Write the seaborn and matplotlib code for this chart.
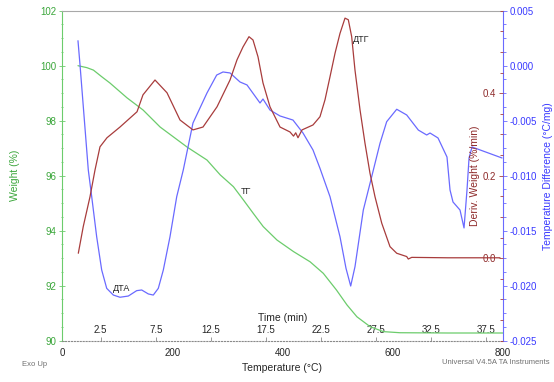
import seaborn as sns
import matplotlib.pyplot as plt
from matplotlib.ticker import MultipleLocator, AutoMinorLocator, FixedLocator, FormatStrFormatter

# ТГ: потеря массы, %
tg_temp = [29, 45, 57, 72, 87, 118, 147, 178, 227, 263, 287, 311, 329, 347, 365, 390,
           420, 450, 474, 498, 517, 535, 559, 583, 613, 700, 800]
tg_weight = [100.0, 99.93, 99.84, 99.60, 99.37, 98.83, 98.39, 97.77, 97.04, 96.57,
             96.03, 95.60, 95.12, 94.63, 94.15, 93.66, 93.24, 92.87, 92.45, 91.84,
             91.30, 90.87, 90.51, 90.33, 90.29, 90.28, 90.28]

# ДТА: разность температур, °C/mg
dta_temp = [29, 32.7, 47.7, 53.9, 62.9, 72.0, 81.1, 93.1, 105.2, 120.3, 135.5, 144.6,
            156.6, 165.6, 174.7, 183.8, 195.9, 208.1, 220.0, 237.6, 263.0, 280.6,
            292.1, 304.8, 322.9, 335.6, 359.2, 364.6, 377.3, 395.5, 419.0, 437.2,
            455.3, 468.0, 486.2, 504.3, 515.2, 523.7, 531.5, 546.6, 561.8, 576.9,
            589.0, 607.2, 625.3, 646.4, 661.6, 667.6, 682.1, 698.4, 703.9, 709.3,
            722.0, 729.3, 734.7, 738.4, 743.8, 798.2]
dta_diff = [0.00227, 0.00006, -0.00948, -0.01191, -0.01555, -0.01857, -0.02024,
            -0.02085, -0.02105, -0.02094, -0.02045, -0.02039, -0.02075, -0.02085,
            -0.02024, -0.01857, -0.01555, -0.01191, -0.00948, -0.00521, -0.00248,
            -0.00085, -0.00057, -0.00066, -0.00148, -0.00175, -0.00339, -0.00303,
            -0.00403, -0.00457, -0.00494, -0.00612, -0.00766, -0.00933, -0.01191,
            -0.01555, -0.01842, -0.02003, -0.01827, -0.01312, -0.01009, -0.00705,
            -0.00509, -0.00396, -0.00448, -0.00585, -0.00630, -0.00612, -0.00657,
            -0.00830, -0.01130, -0.01239, -0.01312, -0.01475, -0.01130, -0.00839,
            -0.00739, -0.00839]

# ДТГ: производная массы, %/min
dtg_temp = [29.6, 38.6, 50.8, 59.9, 68.9, 81.6, 105.2, 136.1, 146.9, 168.7, 190.5,
            214.1, 237.6, 255.8, 281.2, 304.8, 317.5, 328.3, 339.2, 346.5, 355.6,
            364.6, 377.3, 395.5, 413.6, 420.0, 424.0, 428.1, 435.4, 455.3, 468.0,
            477.1, 486.2, 495.3, 504.3, 513.4, 519.4, 525.5, 531.5, 540.6, 549.6,
            558.7, 567.8, 580.0, 595.0, 607.2, 625.3, 628.2, 634.4, 700.0, 794.6]
dtg_deriv = [0.012, 0.077, 0.149, 0.214, 0.270, 0.292, 0.318, 0.355, 0.396, 0.432,
             0.401, 0.335, 0.311, 0.318, 0.367, 0.432, 0.481, 0.512, 0.537, 0.529,
             0.488, 0.425, 0.367, 0.318, 0.306, 0.296, 0.304, 0.292, 0.311, 0.323,
             0.343, 0.384, 0.440, 0.497, 0.545, 0.582, 0.578, 0.537, 0.456, 0.360,
             0.279, 0.206, 0.149, 0.085, 0.028, 0.012, 0.004, -0.002, 0.002, 0.001,
             0.001]

temp_ticks = [0, 200, 400, 600, 800]
time_ticks = [2.5, 7.5, 12.5, 17.5, 22.5, 27.5, 32.5, 37.5]
weight_ticks = [90, 92, 94, 96, 98, 100, 102]
dta_ticks = [-0.025, -0.020, -0.015, -0.010, -0.005, 0.000, 0.005]
dtg_ticks = [0.0, 0.2, 0.4]

green_line, green_txt = '#6ccc6c', '#3aa63a'
blue_line, blue_txt = '#6a6aff', '#3a3aff'
red_line, red_txt = '#a83c3c', '#8e2a2a'
grey = '#8a8a8a'

sns.set_style('white')
plt.rcParams['font.family'] = ['Liberation Sans', 'DejaVu Sans']
plt.rcParams['font.size'] = 7

fig = plt.figure(figsize=(5.54, 3.82), dpi=100)
ax = fig.add_axes([62 / 554, 1 - 340.7 / 382, 441 / 554, 330 / 382])
ax_dta = ax.twinx()
ax_dtg = ax.twinx()

sns.lineplot(x=tg_temp, y=tg_weight, ax=ax, color=green_line, lw=0.9, estimator=None)
sns.lineplot(x=dta_temp, y=dta_diff, ax=ax_dta, color=blue_line, lw=0.9, estimator=None)
sns.lineplot(x=dtg_temp, y=dtg_deriv, ax=ax_dtg, color=red_line, lw=0.9, estimator=None)

# оси температуры и массы
ax.set_xlim(0, 800)
ax.set_ylim(90, 102)
ax.set_xticks(temp_ticks)
ax.xaxis.set_minor_locator(MultipleLocator(50))
ax.set_yticks(weight_ticks)
ax.yaxis.set_minor_locator(AutoMinorLocator(4))
ax.tick_params(axis='x', which='both', direction='out', color=grey, width=0.6, labelsize=7, pad=2)
ax.tick_params(axis='x', which='major', length=3)
ax.tick_params(axis='x', which='minor', length=2)
ax.tick_params(axis='y', which='both', direction='inout', color=green_line, width=0.6,
               labelcolor=green_txt, labelsize=7, pad=2)
ax.tick_params(axis='y', which='major', length=4)
ax.tick_params(axis='y', which='minor', length=2)
ax.set_xlabel('Temperature (°C)', fontsize=7.5, labelpad=4)
ax.set_ylabel('Weight (%)', fontsize=7.5, color=green_txt)
ax.yaxis.set_label_coords(-0.095, 0.5)
ax.spines['left'].set_color(green_line)
ax.spines['top'].set_color('#a8a8a8')
ax.spines['bottom'].set_color(grey)
ax.spines['bottom'].set_linestyle(':')
ax.spines['right'].set_visible(False)
for s in ax.spines.values():
    s.set_linewidth(0.8)

# ось ДТА (синяя, справа)
ax_dta.set_ylim(-0.025, 0.005)
ax_dta.set_yticks(dta_ticks)
ax_dta.yaxis.set_major_formatter(FormatStrFormatter('%.3f'))
ax_dta.yaxis.set_minor_locator(AutoMinorLocator(4))
ax_dta.tick_params(axis='y', which='both', direction='out', color=blue_line, width=0.6,
                   labelcolor=blue_txt, labelsize=7, pad=2)
ax_dta.tick_params(axis='y', which='major', length=3)
ax_dta.tick_params(axis='y', which='minor', length=2)
ax_dta.set_ylabel('Temperature Difference (°C/mg)', fontsize=7.5, color=blue_txt)
ax_dta.yaxis.set_label_coords(1.09, 0.5)
for k in ['left', 'top', 'bottom']:
    ax_dta.spines[k].set_visible(False)
ax_dta.spines['right'].set_color(blue_line)
ax_dta.spines['right'].set_linewidth(0.8)

# ось ДТГ: подписи внутри графика у правой оси
ax_dtg.set_ylim(-0.2, 0.6)
ax_dtg.yaxis.tick_left()
ax_dtg.yaxis.set_label_position('left')
ax_dtg.spines['left'].set_position(('axes', 1.0))
for s in ax_dtg.spines.values():
    s.set_visible(False)
ax_dtg.set_yticks(dtg_ticks)
ax_dtg.yaxis.set_major_formatter(FormatStrFormatter('%.1f'))
ax_dtg.yaxis.set_minor_locator(MultipleLocator(0.05))
ax_dtg.tick_params(axis='y', which='both', direction='out', color=red_line, width=0.6,
                   labelcolor=red_txt, labelsize=7, pad=2)
ax_dtg.tick_params(axis='y', which='major', length=3)
ax_dtg.tick_params(axis='y', which='minor', length=2)
ax_dtg.set_ylabel('Deriv. Weight (%/min)', fontsize=7.5, color=red_txt)
ax_dtg.yaxis.set_label_coords(0.948, 0.5)

# ось времени (нагрев 20 °C/min от 20 °C)
sec = ax.secondary_xaxis(0, functions=(lambda T: (T - 20) / 20, lambda t: 20 * t + 20))
sec.set_alignment('top')
sec.xaxis.set_major_locator(FixedLocator(time_ticks))
sec.xaxis.set_major_formatter(FormatStrFormatter('%.1f'))
sec.tick_params(axis='x', direction='out', length=3, width=0.6, color=grey, labelsize=7, pad=1)
sec.spines['top'].set_visible(False)
sec.set_xlabel('Time (min)', fontsize=7.5, labelpad=3)

# подписи кривых
ax_dta.text(92, -0.0203, 'ДТА', fontsize=6.5, va='center')
ax.text(325, 95.44, 'ТГ', fontsize=6.5, va='center')
ax_dtg.text(528, 0.529, 'ДТГ', fontsize=6.5, va='center')

fig.text(35 / 554, 1 - 365 / 382, 'Exo Up', fontsize=5.5, color='#707070', ha='center', va='center')
fig.text(550 / 554, 1 - 363 / 382, 'Universal V4.5A TA Instruments', fontsize=5.5,
         color='#707070', ha='right', va='center')

fig.savefig('out.png', dpi=100)
